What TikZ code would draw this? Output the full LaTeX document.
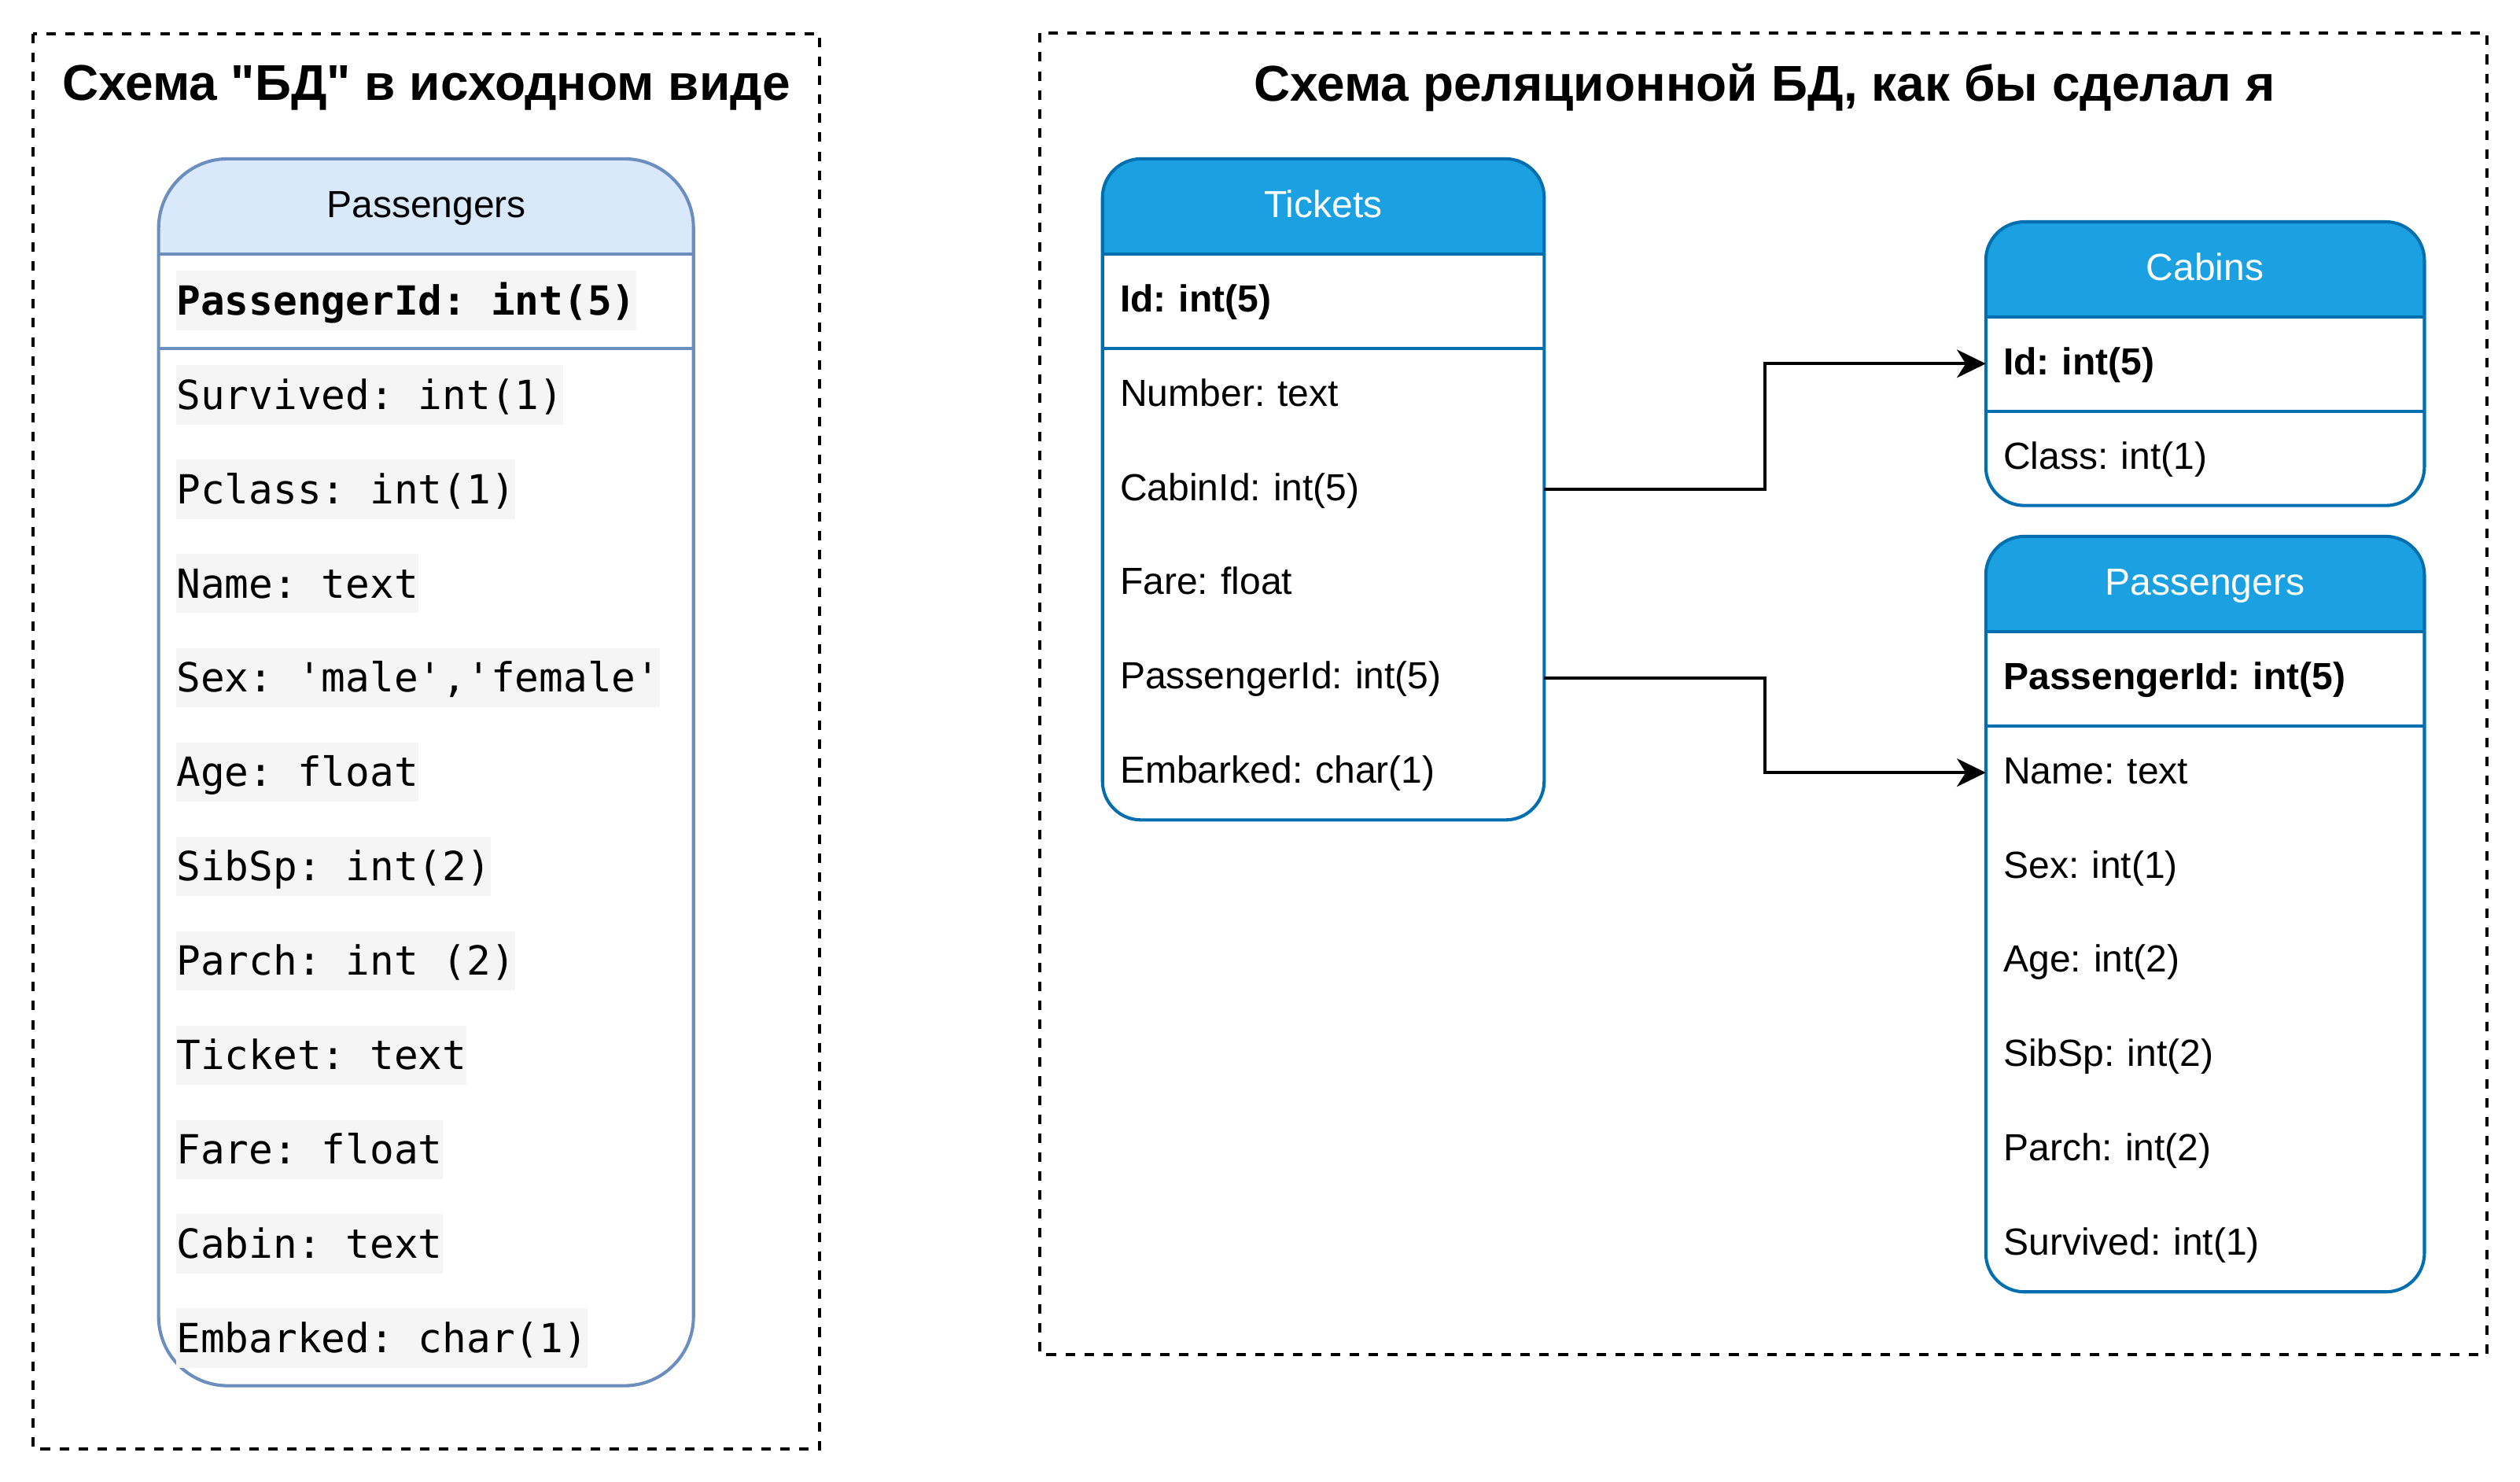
\documentclass[tikz,border=0pt]{standalone}
\usepackage{fontspec}
\setmainfont{Liberation Sans}
\setmonofont{DejaVu Sans Mono}
\usetikzlibrary{arrows.meta,backgrounds}

\definecolor{headblue}{HTML}{1BA1E2}
\definecolor{lineblue}{HTML}{006EAF}
\definecolor{headpale}{HTML}{DAE8FC}
\definecolor{linepale}{HTML}{6C8EBF}
\definecolor{codegray}{HTML}{F5F5F5}

\newcommand{\titlefont}{\fontsize{31.3}{36}\selectfont\bfseries}
\newcommand{\tblfont}{\fontsize{23.5}{28}\selectfont}
\newcommand{\codefont}{\ttfamily\fontsize{25}{30}\selectfont}

\tikzset{
  frame/.style={draw=black, line width=2pt, dash pattern=on 5.9pt off 5.9pt},
  title/.style={font=\titlefont, anchor=base, inner sep=0pt},
  head/.style={anchor=north west, minimum height=58.7pt, minimum width=#1,
    inner sep=0pt, font=\tblfont, text height=16.9pt, text depth=3.3pt},
  cell/.style={anchor=north west, minimum height=58.7pt, text width=#1,
    inner xsep=10.8pt, inner ysep=0pt, align=left, font=\tblfont,
    text height=16.9pt, text depth=3.3pt},
  code/.style={anchor=west, fill=codegray, minimum height=37pt, inner sep=0pt,
    font=\codefont, text height=19pt, text depth=1pt},
  outline/.style={line width=2pt, rounded corners=#1},
  sep/.style={line width=2pt},
  link/.style={line width=2pt, -{Stealth[length=18pt, width=17.5pt, inset=5.5pt]}},
}

\begin{document}
\frenchspacing
\begin{tikzpicture}[x=1pt, y=-1pt]
  \useasboundingbox (0,0) rectangle (1568,922);

  % frames and titles
  \draw[frame] (20.7,20.9) rectangle (510.1,901.4);
  \draw[frame] (647,20.7) rectangle (1547.6,842.6);
  \node[title] (t-left) at (265.2,62.6) {Схема \textquotedbl БД\textquotedbl{} в исходном виде};
  \node[title] (t-right) at (1098,62.9) {Схема реляционной БД, как бы сделал я};

  % original table
  \node[head=332.8pt] (pl-head) at (98.7,98.8) {Passengers};
  \coordinate (pl-end) at (431.5,862.1);
  \node[code, font=\codefont\bfseries] (pl-key) at (109.6,186.85) {PassengerId: int(5)};
  \foreach \txt [count=\i] in {Survived: int(1), Pclass: int(1), Name: text,
    {Sex: \textquotesingle male\textquotesingle,\textquotesingle female\textquotesingle},
    Age: float, SibSp: int(2), Parch: int (2), Ticket: text, Fare: float,
    Cabin: text, Embarked: char(1)} {
    \node[code] (pl-\i) at (109.6,{186.85+58.7*\i}) {\txt};
  }
  \begin{scope}[on background layer]
    \begin{scope}
      \clip[rounded corners=43pt] (pl-head.north west) rectangle (pl-end);
      \fill[headpale] (pl-head.north west) rectangle (pl-head.south east);
    \end{scope}
    \draw[outline=43pt, draw=linepale] (pl-head.north west) rectangle (pl-end);
    \draw[sep, linepale] (pl-head.south west) -- (pl-head.south east)
      ([yshift=-58.7pt]pl-head.south west) -- ([yshift=-58.7pt]pl-head.south east);
  \end{scope}

  % Tickets
  \node[head=274.4pt, text=white] (tk-head) at (686,98.8) {Tickets};
  \node[cell=252.8pt, font=\tblfont\bfseries] (tk-id) at (686,157.5) {Id: int(5)};
  \foreach \name/\txt [count=\i] in {number/Number: text, cabinid/CabinId: int(5),
    fare/Fare: float, passengerid/PassengerId: int(5), embarked/Embarked: char(1)} {
    \node[cell=252.8pt] (tk-\name) at (686,{157.5+58.7*\i}) {\txt};
  }

  % Cabins
  \node[head=272.5pt, text=white] (cb-head) at (1235.6,138) {Cabins};
  \node[cell=250.9pt, font=\tblfont\bfseries] (cb-id) at (1235.6,196.7) {Id: int(5)};
  \node[cell=250.9pt] (cb-class) at (1235.6,255.4) {Class: int(1)};

  % Passengers
  \node[head=272.5pt, text=white] (ps-head) at (1235.6,333.7) {Passengers};
  \node[cell=250.9pt, font=\tblfont\bfseries] (ps-passengerid) at (1235.6,392.4) {PassengerId: int(5)};
  \foreach \name/\txt [count=\i] in {name/Name: text, sex/Sex: int(1), age/Age: int(2),
    sibsp/SibSp: int(2), parch/Parch: int(2), survived/Survived: int(1)} {
    \node[cell=250.9pt] (ps-\name) at (1235.6,{392.4+58.7*\i}) {\txt};
  }

  \begin{scope}[on background layer]
    \foreach \t/\last in {tk/tk-embarked, cb/cb-class, ps/ps-survived} {
      \begin{scope}
        \clip[rounded corners=24pt] (\t-head.north west) rectangle (\last.south east);
        \fill[headblue] (\t-head.north west) rectangle (\t-head.south east);
      \end{scope}
      \draw[outline=24pt, draw=lineblue] (\t-head.north west) rectangle (\last.south east);
      \draw[sep, lineblue] (\t-head.south west) -- (\t-head.south east)
        ([yshift=-58.7pt]\t-head.south west) -- ([yshift=-58.7pt]\t-head.south east);
    }
  \end{scope}

  % links
  \coordinate (bend) at (1098,0);
  \draw[link] (tk-cabinid.east) -- (tk-cabinid.east -| bend) |- (cb-id.west);
  \draw[link] (tk-passengerid.east) -- (tk-passengerid.east -| bend) |- (ps-name.west);
\end{tikzpicture}
\end{document}
